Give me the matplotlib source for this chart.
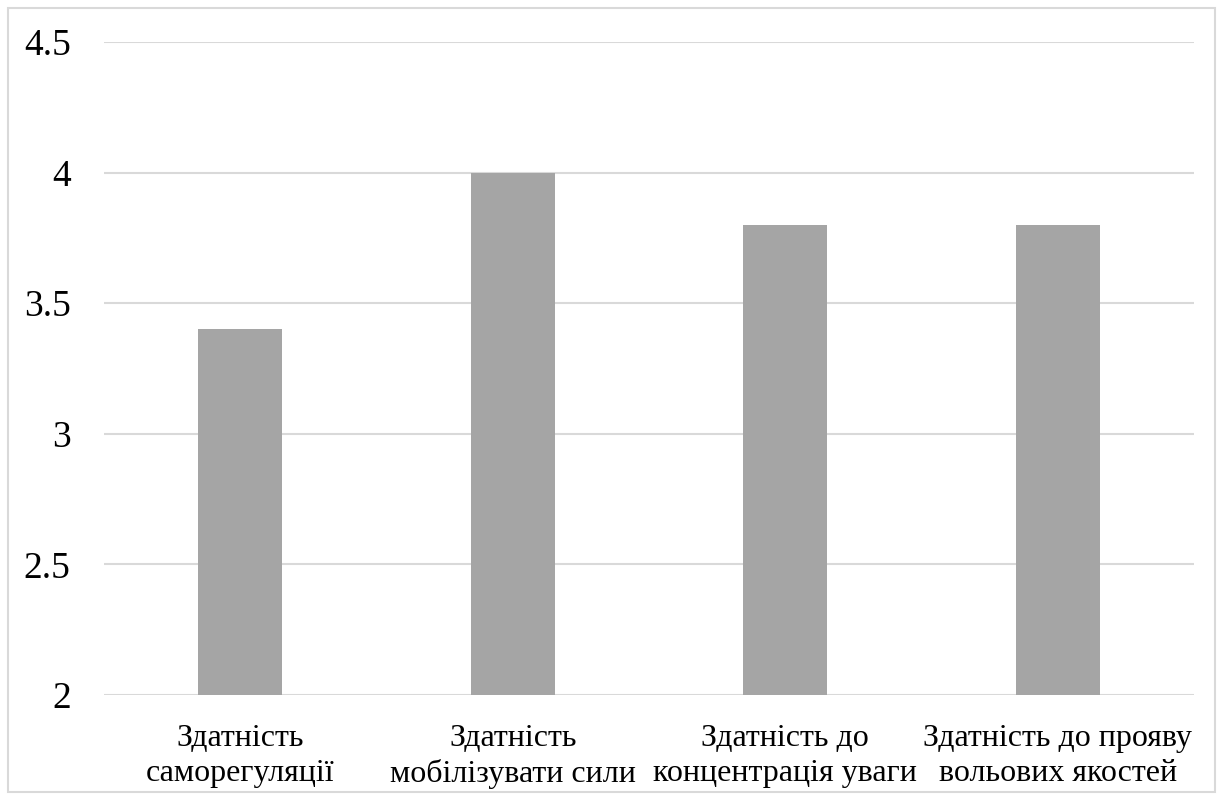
import matplotlib
matplotlib.use("Agg")
import matplotlib.pyplot as plt
from matplotlib.patches import Rectangle

categories = [
    "Здатність\nсаморегуляції",
    "Здатність\nмобілізувати сили",
    "Здатність до\nконцентрація уваги",
    "Здатність до прояву\nвольових якостей",
]
values = [3.4, 4.0, 3.8, 3.8]
y_ticks = [2, 2.5, 3, 3.5, 4, 4.5]
y_tick_labels = ["2", "2.5", "3", "3.5", "4", "4.5"]

plt.rcParams["font.family"] = ["Liberation Serif", "DejaVu Serif"]

W, H = 1225, 800
fig = plt.figure(figsize=(W / 100, H / 100), dpi=100)
ax = fig.add_axes([104 / W, (H - 695) / H, (1194 - 104) / W, (695 - 42) / H])

x = list(range(len(categories)))
ax.bar(x, values, width=0.31, color="#A5A5A5", zorder=3, bottom=0)
ax.set_xlim(-0.5, len(categories) - 0.5)
ax.set_ylim(2, 4.5)
ax.set_yticks(y_ticks)
ax.set_yticklabels(y_tick_labels, fontsize=27)
ax.set_xticks(x)
ax.set_xticklabels(categories, fontsize=23, linespacing=1.25)
ax.tick_params(axis="y", length=0, pad=24)
ax.tick_params(axis="x", length=0, pad=21)
ax.grid(axis="y", color="#D9D9D9", linewidth=1.5, zorder=0)
for s in ax.spines.values():
    s.set_visible(False)

fig.patches.append(Rectangle((8 / W, 8 / H), (1215 - 8) / W, (792 - 8) / H,
                             transform=fig.transFigure, fill=False,
                             edgecolor="#D9D9D9", linewidth=1.5))

fig.savefig("out.png", dpi=100)
